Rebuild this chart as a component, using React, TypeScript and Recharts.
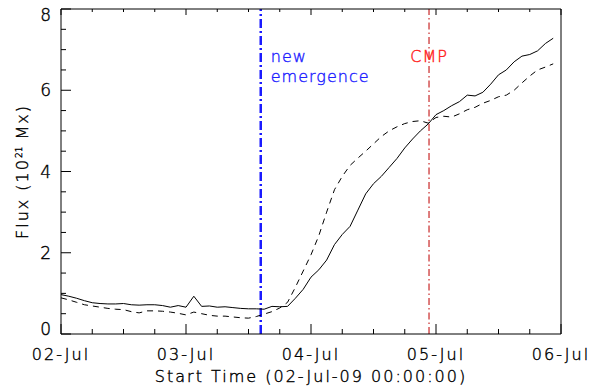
import { LineChart, Line, XAxis, YAxis, ReferenceLine } from 'recharts'

// hours since 02-Jul-09 00:00:00
const hours = [
  0, 1.5, 3, 4.5, 6, 7.5, 9, 10.5, 12, 13.5, 15, 16.5, 18, 19.5, 21, 22.5,
  24, 25.5, 27, 28.5, 30, 31.5, 33, 34.5, 36, 37.5, 39, 40.5, 42, 43.5, 45, 46.5,
  48, 49.5, 51, 52.5, 54, 55.5, 57, 58.5, 60, 61.5, 63, 64.5, 66, 67.5, 69, 70.5,
  72, 73.5, 75, 76.5, 78, 79.5, 81, 82.5, 84, 85.5, 87, 88.5, 90, 91.5, 93, 94.5,
]

const solidFlux = [
  0.97, 0.93, 0.88, 0.82, 0.77, 0.75, 0.74, 0.74, 0.75, 0.72, 0.71, 0.72, 0.72, 0.7, 0.66, 0.7,
  0.66, 0.93, 0.68, 0.69, 0.66, 0.67, 0.65, 0.63, 0.62, 0.62, 0.61, 0.68, 0.67, 0.68, 0.88, 1.1,
  1.4, 1.58, 1.82, 2.2, 2.45, 2.65, 3.05, 3.45, 3.7, 3.88, 4.1, 4.32, 4.58, 4.8, 5.0, 5.17,
  5.4, 5.5, 5.62, 5.72, 5.88, 5.86, 5.95, 6.15, 6.38, 6.5, 6.7, 6.84, 6.88, 6.97, 7.15, 7.28,
]

const dashedFlux = [
  0.89, 0.84, 0.78, 0.72, 0.69, 0.66, 0.63, 0.61, 0.6, 0.55, 0.52, 0.57, 0.57, 0.56, 0.54, 0.51,
  0.47, 0.54, 0.5, 0.46, 0.44, 0.44, 0.42, 0.4, 0.39, 0.43, 0.49, 0.55, 0.64, 0.78, 1.15, 1.55,
  1.95, 2.42, 3.0, 3.55, 3.88, 4.15, 4.33, 4.5, 4.68, 4.86, 5.0, 5.1, 5.18, 5.23, 5.25, 5.19,
  5.33, 5.36, 5.34, 5.42, 5.52, 5.58, 5.68, 5.75, 5.84, 5.88, 6.0, 6.18, 6.35, 6.5, 6.57, 6.65,
]

const hourTicks = [0, 6, 12, 18, 24, 30, 36, 42, 48, 54, 60, 66, 72, 78, 84, 90, 96]
const dayLabels = ['02-Jul', '03-Jul', '04-Jul', '05-Jul', '06-Jul']
const fluxTicks = [0, 0.5, 1, 1.5, 2, 2.5, 3, 3.5, 4, 4.5, 5, 5.5, 6, 6.5, 7, 7.5, 8]

const emergenceHour = 38.35
const cmpHour = 70.66

const data = hours.map((h, i) => ({ h, solid: solidFlux[i], dashed: dashedFlux[i] }))

const FONT = 'DejaVu Sans'
const txt = { fontFamily: FONT, fontSize: 16, fontWeight: 200, letterSpacing: 2, strokeWidth: 0.4 }

function BottomTick({ x, y, payload }: any) {
  const major = payload.value % 24 === 0
  return (
    <g>
      <line x1={x} y1={y} x2={x} y2={y - (major ? 10 : 5)} stroke="#000" />
      {major && (
        <text x={x} y={y + 26} textAnchor="middle" fill="#000" stroke="#000" style={txt}>
          {dayLabels[payload.value / 24]}
        </text>
      )}
    </g>
  )
}

function TopTick({ x, y, payload }: any) {
  const major = payload.value % 24 === 0
  return <line x1={x} y1={y} x2={x} y2={y + (major ? 6 : 3)} stroke="#000" />
}

function LeftTick({ x, y, payload }: any) {
  const major = payload.value % 2 === 0
  const shift = payload.value === 8 ? 6 : payload.value === 0 ? -5 : 0
  return (
    <g>
      <line x1={x} y1={y} x2={x + (major ? 10 : 5)} y2={y} stroke="#000" />
      {major && (
        <text x={x - 8} y={y + shift + 6} textAnchor="end" fill="#000" stroke="#000" style={{ ...txt, fontSize: 17 }}>
          {payload.value}
        </text>
      )}
    </g>
  )
}

function RightTick({ x, y, payload }: any) {
  const major = payload.value % 2 === 0
  return <line x1={x} y1={y} x2={x - (major ? 10 : 7)} y2={y} stroke="#000" />
}

function XTitle({ viewBox }: any) {
  return (
    <text x={viewBox.x + viewBox.width / 2} y={viewBox.y + 48} textAnchor="middle" fill="#000" stroke="#000" style={txt}>
      Start Time (02-Jul-09 00:00:00)
    </text>
  )
}

function YTitle({ viewBox }: any) {
  const cy = viewBox.y + viewBox.height / 2
  return (
    <text transform={`translate(28, ${cy}) rotate(-90)`} textAnchor="middle" fill="#000" stroke="#000" style={txt}>
      Flux (10<tspan dy={-6} fontSize={9} letterSpacing={0}>21</tspan>
      <tspan dy={6}> Mx)</tspan>
    </text>
  )
}

function EmergenceLabel({ viewBox }: any) {
  return (
    <text fill="#1f1fff" stroke="#1f1fff" style={{ ...txt, letterSpacing: 1 }}>
      <tspan x={viewBox.x + 10} y={viewBox.y + 53}>new</tspan>
      <tspan x={viewBox.x + 10} y={viewBox.y + 73}>emergence</tspan>
    </text>
  )
}

function CmpLabel({ viewBox }: any) {
  return (
    <text x={viewBox.x} y={viewBox.y + 53} textAnchor="middle" fill="#ff2020" stroke="#ff2020" style={{ ...txt, letterSpacing: 1 }}>
      CMP
    </text>
  )
}

export default function App() {
  return (
    <div style={{ position: 'absolute', left: 0, top: 0, background: '#fff' }}>
      <LineChart width={595} height={390} data={data} margin={{ top: 8, right: 33, bottom: 0, left: 0 }}>
        <XAxis
          xAxisId="b"
          dataKey="h"
          type="number"
          domain={[0, 96]}
          ticks={hourTicks}
          interval={0}
          height={56}
          tickSize={0}
          tickMargin={0}
          tickLine={false}
          axisLine={{ stroke: '#000' }}
          tick={<BottomTick />}
          label={<XTitle />}
        />
        <XAxis
          xAxisId="t"
          orientation="top"
          dataKey="h"
          type="number"
          domain={[0, 96]}
          ticks={hourTicks}
          interval={0}
          height={1}
          tickSize={0}
          tickMargin={0}
          tickLine={false}
          axisLine={{ stroke: '#000' }}
          tick={<TopTick />}
        />
        <YAxis
          yAxisId="l"
          type="number"
          domain={[0, 8]}
          ticks={fluxTicks}
          interval={0}
          width={61}
          tickSize={0}
          tickMargin={0}
          tickLine={false}
          axisLine={{ stroke: '#000' }}
          tick={<LeftTick />}
          label={<YTitle />}
        />
        <YAxis
          yAxisId="r"
          orientation="right"
          type="number"
          domain={[0, 8]}
          ticks={fluxTicks}
          interval={0}
          width={1}
          tickSize={0}
          tickMargin={0}
          tickLine={false}
          axisLine={{ stroke: '#000' }}
          tick={<RightTick />}
        />
        <ReferenceLine
          xAxisId="b"
          yAxisId="l"
          x={emergenceHour}
          stroke="#1a1aff"
          strokeWidth={2.5}
          strokeDasharray="9 3 2 3"
          label={<EmergenceLabel />}
        />
        <ReferenceLine
          xAxisId="b"
          yAxisId="l"
          x={cmpHour}
          stroke="#c82828"
          strokeWidth={1.2}
          strokeDasharray="7 3 1.5 3"
          label={<CmpLabel />}
        />
        <Line
          xAxisId="b"
          yAxisId="l"
          type="linear"
          dataKey="dashed"
          stroke="#000"
          strokeWidth={1}
          strokeDasharray="6 5"
          dot={false}
          isAnimationActive={false}
        />
        <Line
          xAxisId="b"
          yAxisId="l"
          type="linear"
          dataKey="solid"
          stroke="#000"
          strokeWidth={1}
          dot={false}
          isAnimationActive={false}
        />
      </LineChart>
    </div>
  )
}
